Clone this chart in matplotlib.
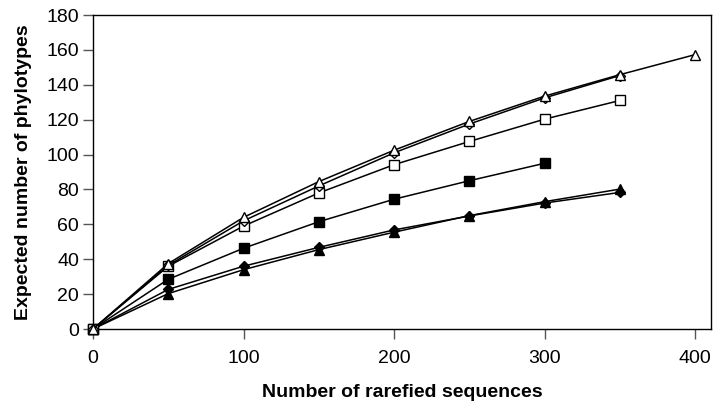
import matplotlib.pyplot as plt

plt.rcParams['font.family'] = ['Liberation Sans', 'DejaVu Sans']

x_full = [0, 50, 100, 150, 200, 250, 300, 350, 400]

open_tri = [0, 37.5, 64, 84.5, 102.5, 119, 133.5, 145.8, 157.3]
open_dia = [0, 36.5, 62, 82, 101, 117.5, 132.5, 145.3]
open_sq = [0, 36, 59, 78, 94.2, 107.5, 120.3, 131]
fill_sq = [0, 28.5, 46.3, 61.5, 74.4, 85, 95]
fill_dia = [0, 22.7, 36, 46.8, 56.8, 64.8, 72.2, 78.3]
fill_tri = [0, 20.3, 34, 45.5, 55.5, 65, 73, 80.2]

fig = plt.figure(figsize=(7.18, 4.11), dpi=100)
ax = fig.add_axes([93 / 718, 1 - 329 / 411, (711 - 93) / 718, (329 - 15) / 411])

series = [
    (fill_tri, '^', 'black'),
    (fill_dia, 'D', 'black'),
    (fill_sq, 's', 'black'),
    (open_sq, 's', 'white'),
    (open_dia, 'D', 'white'),
    (open_tri, '^', 'white'),
]
for ys, m, fc in series:
    ms = 7.5 if m != 'D' else 5.5
    ax.plot(x_full[:len(ys)], ys, color='black', lw=1.1, marker=m,
            markersize=ms, markerfacecolor=fc, markeredgecolor='black',
            markeredgewidth=1.0, clip_on=False, zorder=3)

ax.set_xlim(0, 410.5)
ax.set_ylim(0, 180)
ax.set_xticks([0, 100, 200, 300, 400])
ax.set_yticks(range(0, 181, 20))
ax.tick_params(labelsize=14, length=7, width=1, color='#555555', pad=3)
ax.tick_params(axis='x', pad=8)
for s in ax.spines.values():
    s.set_linewidth(1.0)

ax.set_xlabel('Number of rarefied sequences', fontsize=14, fontweight='bold', labelpad=12)
ax.set_ylabel('Expected number of phylotypes', fontsize=14, fontweight='bold', labelpad=10)

fig.savefig('out.png', dpi=100)
